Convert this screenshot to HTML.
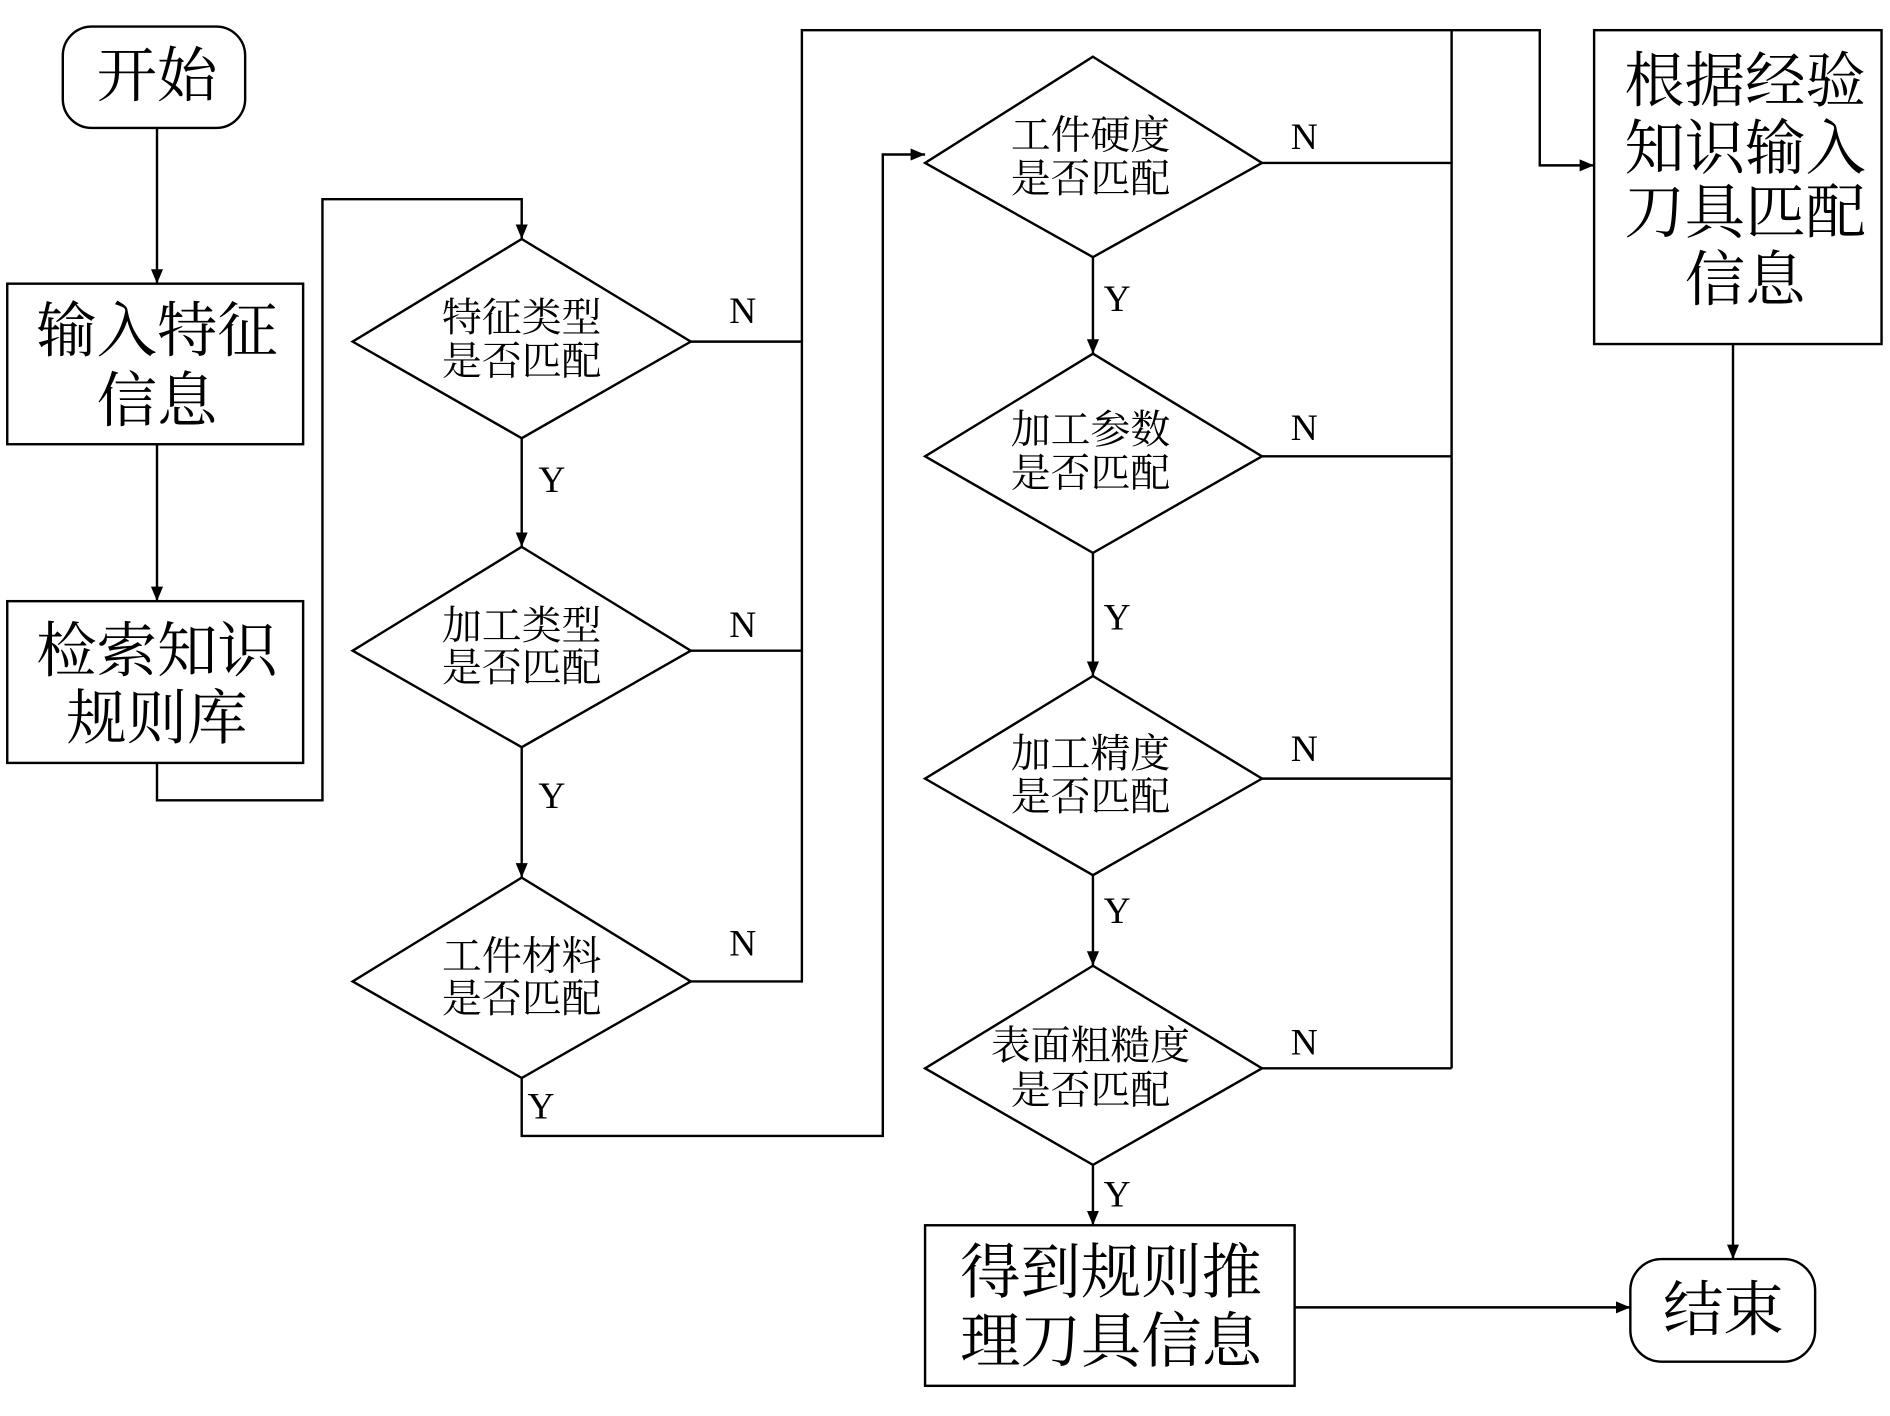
<!DOCTYPE html>
<html><head><meta charset="utf-8"><style>
html,body{margin:0;padding:0;background:#fff;}
svg{display:block;}
text{font-family:"Liberation Serif","Noto Serif CJK SC",serif;fill:#000;text-anchor:middle;dominant-baseline:central;}
.b{font-size:50px;}
.d{font-size:33px;}
.l{font-size:31px;}
</style></head><body>
<svg width="1890" height="1416" viewBox="0 0 1565 1173" preserveAspectRatio="none" xmlns="http://www.w3.org/2000/svg">
<defs><marker id="a" markerWidth="12" markerHeight="10" refX="12" refY="5" orient="auto" markerUnits="userSpaceOnUse"><path d="M0,0 L12,5 L0,10 z" fill="#000"/></marker></defs>
<g stroke="#000" stroke-width="2" fill="none">
<rect x="52" y="22" width="151" height="84" rx="24"/>
<rect x="6" y="235" width="245" height="133"/>
<rect x="6" y="498" width="245" height="134"/>
<rect x="766" y="1015" width="306" height="133"/>
<rect x="1320" y="25" width="238" height="260"/>
<rect x="1350" y="1043" width="153" height="85" rx="26"/>
<polygon points="432,198 572,283 432,363 292,283"/>
<polygon points="432,453 572,539 432,619 292,539"/>
<polygon points="432,727 572,813 432,893 292,813"/>
<polygon points="905,47 1045,135 905,213 766,135"/>
<polygon points="905,293 1045,378 905,458 766,378"/>
<polygon points="905,560 1045,645 905,725 766,645"/>
<polygon points="905,800 1045,885 905,965 766,885"/>
<line x1="130" y1="106" x2="130" y2="235" marker-end="url(#a)"/>
<line x1="130" y1="368" x2="130" y2="498" marker-end="url(#a)"/>
<polyline points="130,632 130,663 267,663 267,165 432,165 432,198" marker-end="url(#a)"/>
<line x1="432" y1="363" x2="432" y2="453" marker-end="url(#a)"/>
<line x1="432" y1="619" x2="432" y2="727" marker-end="url(#a)"/>
<line x1="572" y1="283" x2="664" y2="283"/>
<line x1="572" y1="539" x2="664" y2="539"/>
<polyline points="572,813 664,813 664,25 1275,25 1275,137 1320,137" marker-end="url(#a)"/>
<polyline points="432,893 432,941 731,941 731,128 766,128" marker-end="url(#a)"/>
<line x1="1045" y1="135" x2="1202" y2="135"/>
<line x1="1045" y1="378" x2="1202" y2="378"/>
<line x1="1045" y1="645" x2="1202" y2="645"/>
<line x1="1045" y1="885" x2="1202" y2="885"/>
<line x1="1202" y1="25" x2="1202" y2="885"/>
<line x1="905" y1="213" x2="905" y2="293" marker-end="url(#a)"/>
<line x1="905" y1="458" x2="905" y2="560" marker-end="url(#a)"/>
<line x1="905" y1="725" x2="905" y2="800" marker-end="url(#a)"/>
<line x1="905" y1="965" x2="905" y2="1015" marker-end="url(#a)"/>
<line x1="1072" y1="1083" x2="1350" y2="1083" marker-end="url(#a)"/>
<line x1="1435" y1="285" x2="1435" y2="1043" marker-end="url(#a)"/>
</g>
<text class="b" x="130" y="64">开始</text>
<text class="b" x="130" y="275">输入特征</text><text class="b" x="130" y="333">信息</text>
<text class="b" x="130" y="540">检索知识</text><text class="b" x="130" y="596">规则库</text>
<text class="b" x="920" y="1055">得到规则推</text><text class="b" x="920" y="1112">理刀具信息</text>
<text class="b" x="1445" y="68">根据经验</text><text class="b" x="1445" y="124">知识输入</text><text class="b" x="1445" y="177">刀具匹配</text><text class="b" x="1445" y="233">信息</text>
<text class="b" x="1427" y="1086">结束</text>
<text class="d" x="432" y="263">特征类型</text><text class="d" x="432" y="299">是否匹配</text>
<text class="d" x="432" y="518">加工类型</text><text class="d" x="432" y="553">是否匹配</text>
<text class="d" x="432" y="792">工件材料</text><text class="d" x="432" y="827">是否匹配</text>
<text class="d" x="903" y="112">工件硬度</text><text class="d" x="903" y="148">是否匹配</text>
<text class="d" x="903" y="356">加工参数</text><text class="d" x="903" y="392">是否匹配</text>
<text class="d" x="903" y="624">加工精度</text><text class="d" x="903" y="660">是否匹配</text>
<text class="d" x="903" y="866">表面粗糙度</text><text class="d" x="903" y="903">是否匹配</text>
<text class="l" x="615" y="258">N</text><text class="l" x="615" y="518">N</text><text class="l" x="615" y="782">N</text>
<text class="l" x="457" y="398">Y</text><text class="l" x="457" y="660">Y</text><text class="l" x="448" y="917">Y</text>
<text class="l" x="1080" y="114">N</text><text class="l" x="1080" y="355">N</text><text class="l" x="1080" y="621">N</text><text class="l" x="1080" y="864">N</text>
<text class="l" x="925" y="248">Y</text><text class="l" x="925" y="512">Y</text><text class="l" x="925" y="755">Y</text><text class="l" x="925" y="990">Y</text>
</svg>
</body></html>
